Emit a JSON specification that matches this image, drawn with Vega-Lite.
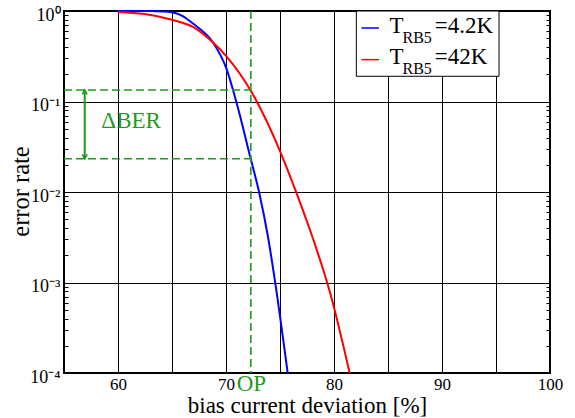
{
  "$schema": "https://vega.github.io/schema/vega-lite/v6.json",
  "width": 486,
  "height": 362,
  "autosize": {"type": "none"},
  "padding": {"left": 64, "top": 11, "right": 25, "bottom": 45},
  "background": "white",
  "config": {
    "view": {"stroke": "black", "strokeWidth": 2},
    "font": "Liberation Serif",
    "text": {"font": "Liberation Serif"},
    "axis": {"labelFont": "Liberation Serif", "titleFont": "Liberation Serif", "titleFontWeight": "normal", "labelColor": "black", "titleColor": "black"}
  },
  "datasets": {
    "curves": [
      {"series": "4.2K", "x": 60, "y": 1.0},
      {"series": "4.2K", "x": 63, "y": 0.998},
      {"series": "4.2K", "x": 64, "y": 0.99},
      {"series": "4.2K", "x": 65, "y": 0.967},
      {"series": "4.2K", "x": 66, "y": 0.88},
      {"series": "4.2K", "x": 66.94, "y": 0.726},
      {"series": "4.2K", "x": 68.8, "y": 0.448},
      {"series": "4.2K", "x": 70.04, "y": 0.231},
      {"series": "4.2K", "x": 70.96, "y": 0.0988},
      {"series": "4.2K", "x": 72.26, "y": 0.024},
      {"series": "4.2K", "x": 73.06, "y": 0.01},
      {"series": "4.2K", "x": 73.89, "y": 0.00318},
      {"series": "4.2K", "x": 74.56, "y": 0.00099},
      {"series": "4.2K", "x": 75.71, "y": 0.0001},
      {"series": "42K", "x": 60, "y": 0.975},
      {"series": "42K", "x": 62.47, "y": 0.924},
      {"series": "42K", "x": 65, "y": 0.80},
      {"series": "42K", "x": 66.94, "y": 0.666},
      {"series": "42K", "x": 68.8, "y": 0.448},
      {"series": "42K", "x": 70.04, "y": 0.316},
      {"series": "42K", "x": 72.35, "y": 0.128},
      {"series": "42K", "x": 74.97, "y": 0.0289},
      {"series": "42K", "x": 76.52, "y": 0.0098},
      {"series": "42K", "x": 78.06, "y": 0.00304},
      {"series": "42K", "x": 79.6, "y": 0.0008},
      {"series": "42K", "x": 81.45, "y": 0.0001}
    ],
    "hdash": [
      {"x": 55, "x2": 72.3, "y": 0.134},
      {"x": 55, "x2": 72.3, "y": 0.0233}
    ],
    "vdash": [
      {"x": 72.3, "y": 1, "y2": 0.0001}
    ],
    "arrow": [
      {"x": 56.92, "y": 0.134, "y2": 0.0233}
    ],
    "headTop": [{"x": 56.92, "y": 0.134}],
    "headBottom": [{"x": 56.92, "y": 0.0233}],
    "legendBox": [{"x": 82.07, "x2": 95.28, "y": 1, "y2": 0.19}],
    "legendLines": [
      {"series": "4.2K", "x": 82.54, "x2": 84.17, "y": 0.649},
      {"series": "42K", "x": 82.54, "x2": 84.17, "y": 0.29}
    ],
    "legendMain": [
      {"x": 85.13, "y": 0.577, "text": "T"},
      {"x": 89.33, "y": 0.577, "text": "=4.2K"},
      {"x": 85.13, "y": 0.258, "text": "T"},
      {"x": 89.33, "y": 0.258, "text": "=42K"}
    ],
    "legendSub": [
      {"x": 86.34, "y": 0.448, "text": "RB5"},
      {"x": 86.34, "y": 0.2, "text": "RB5"}
    ],
    "dber": [{"x": 58.46, "y": 0.0509, "text": "ΔBER"}],
    "op": [{"x": 72.35, "y": 0.0001, "text": "OP"}]
  },
  "layer": [
    {
      "data": {"name": "curves"},
      "mark": {"type": "line", "strokeWidth": 2, "interpolate": "monotone"},
      "encoding": {
        "x": {
          "field": "x", "type": "quantitative",
          "scale": {"domain": [55, 100], "nice": false, "zero": false},
          "axis": {
            "values": [55, 60, 65, 70, 75, 80, 85, 90, 95, 100],
            "labelExpr": "datum.value % 10 == 0 && datum.value > 55 ? datum.label : ''",
            "labelFont": "Liberation Serif",
            "labelFontSize": 17,
            "labelPadding": 3,
            "labelFlush": false,
            "labelOverlap": false,
            "ticks": false,
            "domain": false,
            "grid": true,
            "gridColor": "black",
            "gridWidth": 1,
            "gridOpacity": 1,
            "title": "bias current deviation [%]",
            "titleFont": "Liberation Serif",
            "titleFontSize": 23,
            "titleY": 39,
            "titleBaseline": "alphabetic"
          }
        },
        "y": {
          "field": "y", "type": "quantitative",
          "scale": {"type": "log", "domain": [0.0001, 1], "nice": false},
          "axis": {
            "orient": "left",
            "values": [0.0001, 0.0002, 0.0003, 0.0004, 0.0005, 0.0006, 0.0007, 0.0008, 0.0009, 0.001, 0.002, 0.003, 0.004, 0.005, 0.006, 0.007, 0.008, 0.009, 0.01, 0.02, 0.03, 0.04, 0.05, 0.06, 0.07, 0.08, 0.09, 0.1, 0.2, 0.3, 0.4, 0.5, 0.6, 0.7, 0.8, 0.9, 1],
            "labelExpr": "abs(log(datum.value)/LN10 - round(log(datum.value)/LN10)) < 0.001 ? ['10⁰','10⁻¹','10⁻²','10⁻³','10⁻⁴'][-round(log(datum.value)/LN10)] : ''",
            "labelFont": "Liberation Serif",
            "labelFontSize": 18,
            "labelPadding": 8,
            "labelOffset": 4,
            "labelOverlap": false,
            "ticks": true,
            "tickSize": -4,
            "tickColor": "black",
            "tickWidth": 1,
            "domain": false,
            "grid": true,
            "gridColor": "black",
            "gridWidth": 1,
            "gridOpacity": {"condition": {"test": "abs(log(datum.value)/LN10 - round(log(datum.value)/LN10)) < 0.001", "value": 1}, "value": 0},
            "title": "error rate",
            "titleFont": "Liberation Serif",
            "titleFontSize": 24.5,
            "titleX": -36,
            "titleY": 180,
            "titleBaseline": "alphabetic"
          }
        },
        "color": {"field": "series", "type": "nominal", "scale": {"domain": ["4.2K", "42K"], "range": ["#0000ff", "#ff0000"]}, "legend": null},
        "detail": {"field": "series"}
      }
    },
    {
      "data": {"name": "hdash"},
      "mark": {"type": "rule", "color": "#1f9a1f", "strokeWidth": 1.6, "strokeDash": [8, 4]},
      "encoding": {
        "x": {"field": "x", "type": "quantitative", "scale": {"domain": [55, 100], "nice": false, "zero": false}},
        "x2": {"field": "x2"},
        "y": {"field": "y", "type": "quantitative", "scale": {"type": "log", "domain": [0.0001, 1], "nice": false}, "axis": null}
      }
    },
    {
      "data": {"name": "vdash"},
      "mark": {"type": "rule", "color": "#1f9a1f", "strokeWidth": 1.6, "strokeDash": [8, 4]},
      "encoding": {
        "x": {"field": "x", "type": "quantitative", "scale": {"domain": [55, 100], "nice": false, "zero": false}},
        "y": {
          "field": "y", "type": "quantitative",
          "scale": {"type": "log", "domain": [0.0001, 1], "nice": false},
          "axis": {
            "orient": "right",
            "values": [0.0001, 0.0002, 0.0003, 0.0004, 0.0005, 0.0006, 0.0007, 0.0008, 0.0009, 0.001, 0.002, 0.003, 0.004, 0.005, 0.006, 0.007, 0.008, 0.009, 0.01, 0.02, 0.03, 0.04, 0.05, 0.06, 0.07, 0.08, 0.09, 0.1, 0.2, 0.3, 0.4, 0.5, 0.6, 0.7, 0.8, 0.9, 1],
            "labels": false,
            "ticks": true,
            "tickSize": -4,
            "tickColor": "black",
            "tickWidth": 1,
            "domain": false,
            "grid": false,
            "title": null
          }
        },
        "y2": {"field": "y2"}
      }
    },
    {
      "data": {"name": "arrow"},
      "mark": {"type": "rule", "color": "#1f9a1f", "strokeWidth": 2},
      "encoding": {
        "x": {"field": "x", "type": "quantitative", "scale": {"domain": [55, 100], "nice": false, "zero": false}},
        "y": {"field": "y", "type": "quantitative", "scale": {"type": "log", "domain": [0.0001, 1], "nice": false}, "axis": null},
        "y2": {"field": "y2"}
      }
    },
    {
      "data": {"name": "headTop"},
      "mark": {"type": "point", "shape": "M-0.8,1.5L0,0L0.8,1.5", "filled": false, "stroke": "#1f9a1f", "strokeWidth": 1.6, "size": 36, "opacity": 1},
      "encoding": {
        "x": {"field": "x", "type": "quantitative", "scale": {"domain": [55, 100], "nice": false, "zero": false}},
        "y": {"field": "y", "type": "quantitative", "scale": {"type": "log", "domain": [0.0001, 1], "nice": false}, "axis": null}
      }
    },
    {
      "data": {"name": "headBottom"},
      "mark": {"type": "point", "shape": "M-0.8,-1.5L0,0L0.8,-1.5", "filled": false, "stroke": "#1f9a1f", "strokeWidth": 1.6, "size": 36, "opacity": 1},
      "encoding": {
        "x": {"field": "x", "type": "quantitative", "scale": {"domain": [55, 100], "nice": false, "zero": false}},
        "y": {"field": "y", "type": "quantitative", "scale": {"type": "log", "domain": [0.0001, 1], "nice": false}, "axis": null}
      }
    },
    {
      "data": {"name": "legendBox"},
      "mark": {"type": "rect", "fill": "white", "stroke": "black", "strokeWidth": 1},
      "encoding": {
        "x": {"field": "x", "type": "quantitative", "scale": {"domain": [55, 100], "nice": false, "zero": false}},
        "x2": {"field": "x2"},
        "y": {"field": "y", "type": "quantitative", "scale": {"type": "log", "domain": [0.0001, 1], "nice": false}, "axis": null},
        "y2": {"field": "y2"}
      }
    },
    {
      "data": {"name": "legendLines"},
      "mark": {"type": "rule", "strokeWidth": 1.5},
      "encoding": {
        "x": {"field": "x", "type": "quantitative", "scale": {"domain": [55, 100], "nice": false, "zero": false}},
        "x2": {"field": "x2"},
        "y": {"field": "y", "type": "quantitative", "scale": {"type": "log", "domain": [0.0001, 1], "nice": false}, "axis": null},
        "color": {"field": "series", "type": "nominal", "scale": {"domain": ["4.2K", "42K"], "range": ["#0000ff", "#ff0000"]}, "legend": null}
      }
    },
    {
      "data": {"name": "legendMain"},
      "mark": {"type": "text", "font": "Liberation Serif", "fontSize": 23, "align": "left", "baseline": "alphabetic", "color": "black"},
      "encoding": {
        "x": {"field": "x", "type": "quantitative", "scale": {"domain": [55, 100], "nice": false, "zero": false}},
        "y": {"field": "y", "type": "quantitative", "scale": {"type": "log", "domain": [0.0001, 1], "nice": false}, "axis": null},
        "text": {"field": "text"}
      }
    },
    {
      "data": {"name": "legendSub"},
      "mark": {"type": "text", "font": "Liberation Serif", "fontSize": 16, "align": "left", "baseline": "alphabetic", "color": "black"},
      "encoding": {
        "x": {"field": "x", "type": "quantitative", "scale": {"domain": [55, 100], "nice": false, "zero": false}},
        "y": {"field": "y", "type": "quantitative", "scale": {"type": "log", "domain": [0.0001, 1], "nice": false}, "axis": null},
        "text": {"field": "text"}
      }
    },
    {
      "data": {"name": "dber"},
      "mark": {"type": "text", "font": "Liberation Serif", "fontSize": 23, "align": "left", "baseline": "alphabetic", "color": "#1f9a1f"},
      "encoding": {
        "x": {"field": "x", "type": "quantitative", "scale": {"domain": [55, 100], "nice": false, "zero": false}},
        "y": {"field": "y", "type": "quantitative", "scale": {"type": "log", "domain": [0.0001, 1], "nice": false}, "axis": null},
        "text": {"field": "text"}
      }
    },
    {
      "data": {"name": "op"},
      "mark": {"type": "text", "font": "Liberation Serif", "fontSize": 23, "align": "center", "baseline": "alphabetic", "dy": 18, "color": "#1f9a1f"},
      "encoding": {
        "x": {"field": "x", "type": "quantitative", "scale": {"domain": [55, 100], "nice": false, "zero": false}},
        "y": {"field": "y", "type": "quantitative", "scale": {"type": "log", "domain": [0.0001, 1], "nice": false}, "axis": null},
        "text": {"field": "text"}
      }
    }
  ],
  "resolve": {"axis": {"y": "independent"}}
}
